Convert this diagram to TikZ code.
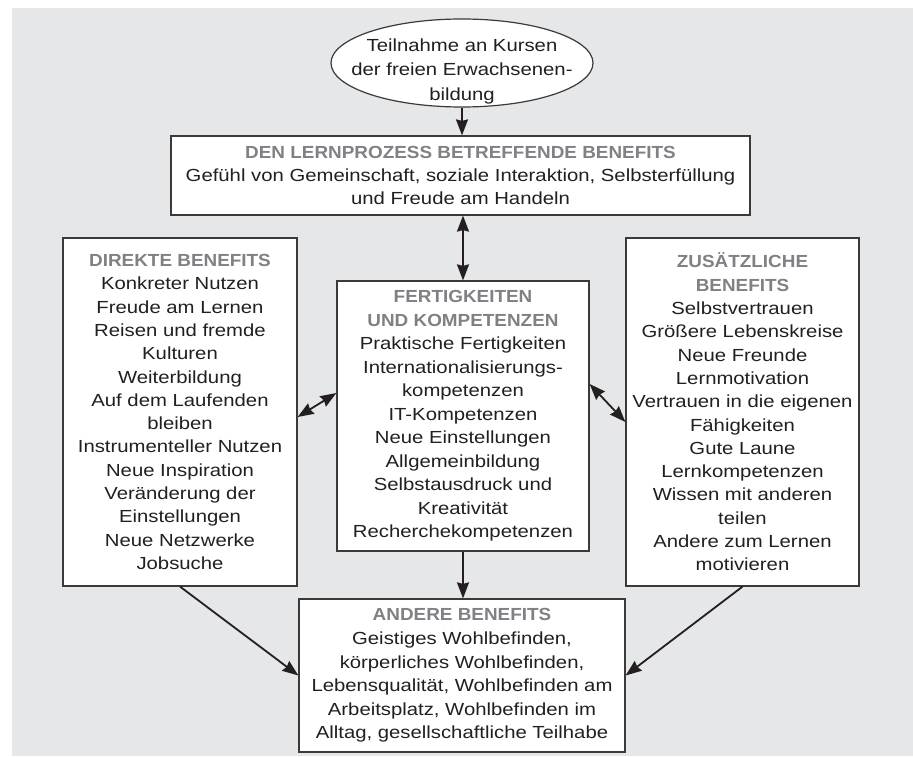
\documentclass[tikz,border=0pt]{standalone}
\usepackage{fontspec}
\setmainfont{Liberation Sans}[FakeStretch=1.16]
\newfontfamily\headfont{Liberation Sans}[FakeStretch=1.08]
\usetikzlibrary{arrows.meta,shapes.geometric,calc}
\definecolor{bg}{HTML}{E6E7E8}
\definecolor{headgray}{HTML}{7F8184}
\definecolor{edge}{HTML}{3A3A3A}
\definecolor{ink}{HTML}{231F20}
\newcommand{\hd}[1]{{\headfont\bfseries\color{headgray}#1}}
\begin{document}
\begin{tikzpicture}[x=1pt,y=-1pt,
  box/.style={draw=edge,line width=1.2pt,fill=white,rectangle,inner sep=0pt,align=center,
    text=ink,font=\fontsize{17.5}{23.3}\selectfont},
  tip/.tip={Stealth[length=16pt,width=12pt,inset=1.5pt]},
  conn/.style={draw=ink,line width=1.8pt,-tip},
  dconn/.style={draw=ink,line width=1.8pt,tip-tip}]
\useasboundingbox (0,0) rectangle (913,757);
\fill[bg] (12,8) rectangle (913,756);

% start ellipse
\node[ellipse,draw=edge,line width=1.2pt,fill=white,minimum width=262pt,minimum height=88pt,inner sep=0pt]
  (start) at (462,63) {};
\node[align=center,inner sep=0pt,text=ink,font=\fontsize{17.5}{24.5}\selectfont] (starttext) at (462,71)
  {Teilnahme an Kursen\\der freien Erwachsenen-\\bildung};

\node[box,minimum width=579pt,minimum height=79pt] (top) at (460.5,175.5)
  {\hd{DEN LERNPROZESS BETREFFENDE BENEFITS}\\
   Gefühl von Gemeinschaft, soziale Interaktion, Selbsterfüllung\\
   und Freude am Handeln};

\node[box,minimum width=234pt,minimum height=348pt] (left) at (180,412)
  {\hd{DIREKTE BENEFITS}\\
   Konkreter Nutzen\\
   Freude am Lernen\\
   Reisen und fremde\\
   Kulturen\\
   Weiterbildung\\
   Auf dem Laufenden\\
   bleiben\\
   Instrumenteller Nutzen\\
   Neue Inspiration\\
   Veränderung der\\
   Einstellungen\\
   Neue Netzwerke\\
   Jobsuche};

\node[box,minimum width=252pt,minimum height=270pt,font=\fontsize{17.5}{23.5}\selectfont] (center) at (463,416)
  {\hd{FERTIGKEITEN}\\
   \hd{UND KOMPETENZEN}\\
   Praktische Fertigkeiten\\
   Internationalisierungs-\\
   kompetenzen\\
   IT-Kompetenzen\\
   Neue Einstellungen\\
   Allgemeinbildung\\
   Selbstausdruck und\\
   Kreativität\\
   Recherchekompetenzen};

\node[box,minimum width=233pt,minimum height=348pt] (right) at (742.5,412)
  {\hd{ZUSÄTZLICHE}\\
   \hd{BENEFITS}\\
   Selbstvertrauen\\
   Größere Lebenskreise\\
   Neue Freunde\\
   Lernmotivation\\
   Vertrauen in die eigenen\\
   Fähigkeiten\\
   Gute Laune\\
   Lernkompetenzen\\
   Wissen mit anderen\\
   teilen\\
   Andere zum Lernen\\
   motivieren};

\node[box,minimum width=326pt,minimum height=153pt,font=\fontsize{17.5}{23.6}\selectfont] (bottom) at (462,675.5)
  {\hd{ANDERE BENEFITS}\\
   Geistiges Wohlbefinden,\\
   körperliches Wohlbefinden,\\
   Lebensqualität, Wohlbefinden am\\
   Arbeitsplatz, Wohlbefinden im\\
   Alltag, gesellschaftliche Teilhabe};

% connectors
\draw[conn] (start.south) -- (start.south |- top.north);
\draw[dconn] (top.south -| center.north) -- (center.north);
\draw[dconn] ([yshift=-5pt]left.east) -- ([yshift=23pt]center.west);
\draw[dconn] ([yshift=32pt]center.east) -- ([yshift=-10pt]right.west);
\draw[conn] (center.south) -- (center.south |- bottom.north);
\draw[conn] (left.south) -- (bottom.west);
\draw[conn] (right.south) -- (bottom.east);
\end{tikzpicture}
\end{document}
